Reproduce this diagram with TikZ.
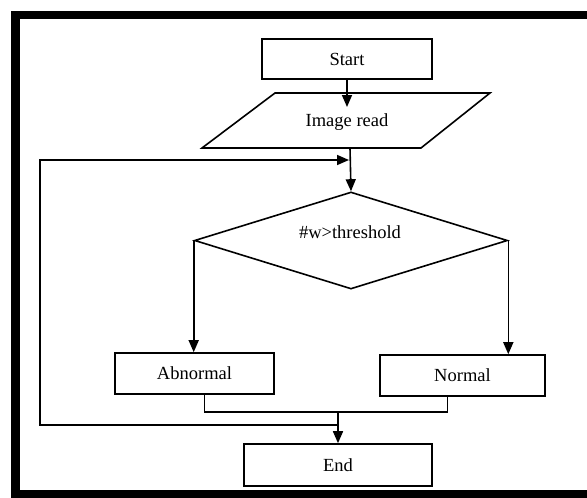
\documentclass[tikz,border=0pt]{standalone}
\usepackage{fontspec}
\setmainfont{Liberation Serif}
\usetikzlibrary{arrows.meta,shapes.geometric}
\begin{document}
\begin{tikzpicture}[x=1pt,y=-1pt,
  ln/.style={line width=1.6pt,line join=miter},
  arr/.style={ln,-{Triangle[length=12pt,width=10pt]}},
  txt/.style={inner sep=0pt,font=\fontsize{18.5}{20}\selectfont},
  box/.style={draw,line width=1.6pt,inner sep=0pt,font=\fontsize{18.5}{20}\selectfont},
  dia/.style={draw,diamond,line width=1.6pt,inner sep=0pt}]
\useasboundingbox (0,0) rectangle (587,498);
% frame
\draw[line width=8.5pt,line cap=butt,line join=miter] (587,15) -- (15.5,15) -- (15.5,494) -- (587,494);
% nodes
\node[box,minimum width=170pt,minimum height=40pt] (start) at (347,59) {Start};
\draw[ln] (202,148) -- (275,93) -- (490,93) -- (421,148) -- cycle;
\node[txt] (read) at (347,122) {Image read};
\coordinate (readin) at (347,107);
\coordinate (readbot) at (350,148);
\node[dia,minimum width=313pt,minimum height=97pt] (test) at (351,240.5) {};
\node[txt] (testlbl) at (350,232) {\#w>threshold};
\node[box,minimum width=159pt,minimum height=41pt] (abn) at (194.5,373.5) {Abnormal};
\node[box,minimum width=165pt,minimum height=41pt] (nor) at (462.5,375.5) {Normal};
\node[box,minimum width=188pt,minimum height=42pt] (end) at (338,465) {End};
\coordinate (lev) at (0,412);
\coordinate (lev2) at (0,425);
\coordinate (jn) at (end.north |- lev);
\coordinate (jl) at (end.north |- lev2);
\coordinate (lp) at (349,160);
% connectors
\draw[arr] (start.south) -- (readin);
\draw[arr] (readbot) -- (test.north);
\draw[arr] (jl) -- (40,425) -- (40,160) -- (lp);
\draw[arr] (test.west) -- (test.west |- abn.north);
\draw[arr] (test.east) -- (test.east |- nor.north);
\draw[ln] ([xshift=10pt]abn.south) -- ([xshift=10pt]abn.south |- lev) -| ([xshift=-15pt]nor.south);
\draw[arr] (jn) -- (end.north);
\end{tikzpicture}
\end{document}
